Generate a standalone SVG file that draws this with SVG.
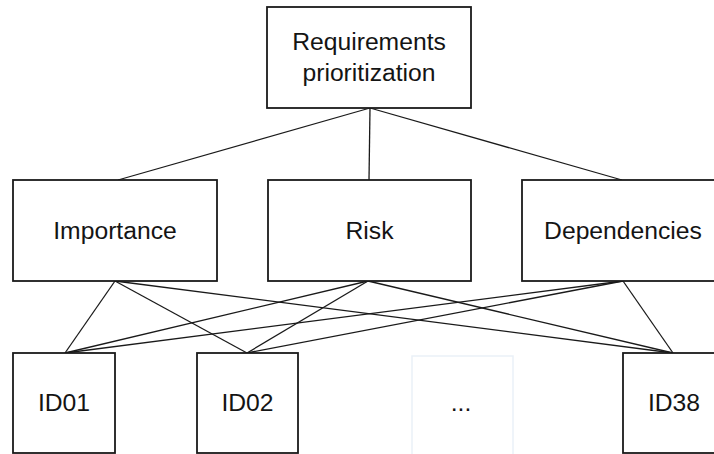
<svg xmlns="http://www.w3.org/2000/svg" width="714" height="454" viewBox="0 0 714 454">
<style>
.box{fill:#ffffff;stroke:#1a1a1a;stroke-width:1.8}
.ghost{fill:#ffffff;stroke:#eaf1f8;stroke-width:1.5}
.lbl{font-family:"Liberation Sans",Arial,sans-serif;font-size:24.7px;fill:#141414;text-anchor:middle}
.edge{stroke:#1a1a1a;stroke-width:1.3;fill:none}
</style>
<rect width="714" height="454" fill="#ffffff"/>
<g id="connectors">
<line class="edge" x1="370" y1="108" x2="118" y2="180"/>
<line class="edge" x1="370" y1="108" x2="369" y2="180"/>
<line class="edge" x1="370" y1="108" x2="622" y2="180"/>
<line class="edge" x1="115" y1="281" x2="65" y2="353"/>
<line class="edge" x1="115" y1="281" x2="247" y2="353"/>
<line class="edge" x1="115" y1="281" x2="673" y2="353"/>
<line class="edge" x1="368" y1="281" x2="65" y2="353"/>
<line class="edge" x1="368" y1="281" x2="247" y2="353"/>
<line class="edge" x1="368" y1="281" x2="673" y2="353"/>
<line class="edge" x1="623" y1="281" x2="65" y2="353"/>
<line class="edge" x1="623" y1="281" x2="247" y2="353"/>
<line class="edge" x1="623" y1="281" x2="673" y2="353"/>
</g>
<g id="root">
<rect class="box" x="267" y="7" width="204" height="101"/>
<text class="lbl" x="369" y="50">Requirements</text>
<text class="lbl" x="369" y="81">prioritization</text>
</g>
<g id="importance">
<rect class="box" x="13" y="180" width="204" height="101"/>
<text class="lbl" x="115" y="239">Importance</text>
</g>
<g id="risk">
<rect class="box" x="268" y="180" width="203" height="101"/>
<text class="lbl" x="369.5" y="239">Risk</text>
</g>
<g id="dependencies">
<rect class="box" x="522" y="180" width="200" height="101"/>
<text class="lbl" x="623" y="239">Dependencies</text>
</g>
<g id="id01">
<rect class="box" x="13" y="353" width="102" height="100"/>
<text class="lbl" x="64" y="411">ID01</text>
</g>
<g id="id02">
<rect class="box" x="197" y="353" width="101" height="100"/>
<text class="lbl" x="247.5" y="411">ID02</text>
</g>
<g id="ellipsis">
<rect class="ghost" x="412" y="356" width="101" height="100"/>
<text class="lbl" x="461" y="411">...</text>
</g>
<g id="id38">
<rect class="box" x="623" y="353" width="102" height="100"/>
<text class="lbl" x="674" y="411">ID38</text>
</g>
</svg>
